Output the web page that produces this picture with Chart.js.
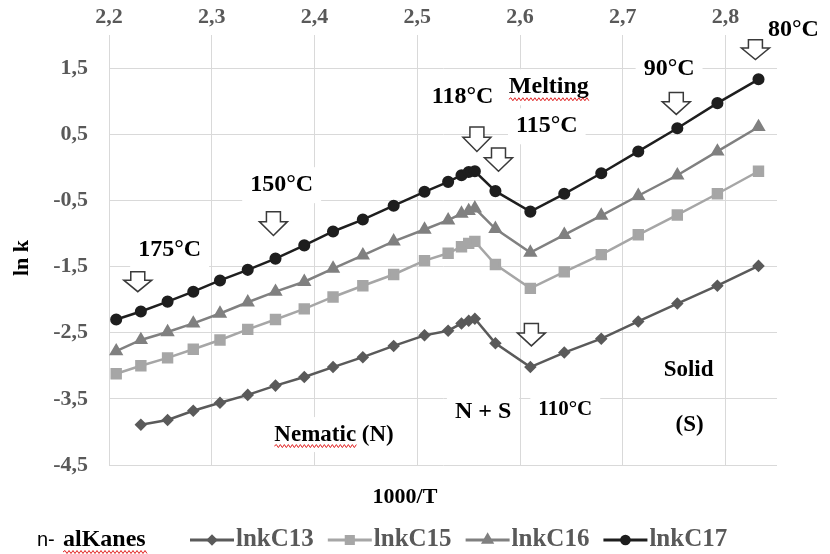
<!DOCTYPE html>
<html>
<head>
<meta charset="utf-8">
<script src="https://cdn.jsdelivr.net/npm/chart.js@4.4.1/dist/chart.umd.min.js"></script>
<style>
  html, body { margin: 0; padding: 0; background: #fff; }
</style>
</head>
<body>
<canvas id="myChart" width="830" height="554"></canvas>
<script>
// 1000/T values (temperatures 180 .. 80 °C)
var invT = [2.207, 2.231, 2.257, 2.282, 2.308, 2.335, 2.362, 2.390, 2.418, 2.447, 2.477, 2.507,
            2.530, 2.543, 2.550, 2.556, 2.576, 2.610, 2.643, 2.679, 2.715, 2.753, 2.792, 2.832];
var lnkC13 = [null, -3.89, -3.82, -3.68, -3.56, -3.44, -3.30, -3.17, -3.02, -2.87, -2.70, -2.54,
              -2.47, -2.36, -2.32, -2.29, -2.66, -3.02, -2.80, -2.59, -2.33, -2.06, -1.79, -1.49];
var lnkC15 = [-3.12, -3.00, -2.88, -2.75, -2.61, -2.45, -2.30, -2.14, -1.96, -1.79, -1.62, -1.41,
              -1.30, -1.20, -1.15, -1.12, -1.47, -1.83, -1.58, -1.32, -1.02, -0.72, -0.40, -0.06];
var lnkC16 = [-2.78, -2.61, -2.49, -2.36, -2.21, -2.04, -1.88, -1.73, -1.53, -1.33, -1.12, -0.94,
              -0.80, -0.70, -0.66, -0.62, -0.93, -1.29, -1.02, -0.73, -0.43, -0.12, 0.24, 0.61];
var lnkC17 = [-2.30, -2.18, -2.03, -1.88, -1.71, -1.55, -1.38, -1.18, -0.97, -0.79, -0.58, -0.37,
              -0.22, -0.12, -0.07, -0.06, -0.36, -0.67, -0.40, -0.09, 0.24, 0.59, 0.97, 1.33];

var xTicks = [2.2, 2.3, 2.4, 2.5, 2.6, 2.7, 2.8];
var xTickLabels = ['2,2', '2,3', '2,4', '2,5', '2,6', '2,7', '2,8'];
var yTicks = [-4.5, -3.5, -2.5, -1.5, -0.5, 0.5, 1.5];
var yTickLabels = ['-4,5', '-3,5', '-2,5', '-1,5', '-0,5', '0,5', '1,5'];

// annotations, placed in data units
var notes = [
  { text: '175°C', x: 2.259, y: -1.24, size: 24 },
  { text: '150°C', x: 2.368, y: -0.27, size: 24 },
  { text: '118°C', x: 2.544, y: 1.06, size: 24 },
  { text: 'Melting', x: 2.628, y: 1.21, size: 24, wavy: 'Melting' },
  { text: '115°C', x: 2.626, y: 0.62, size: 24 },
  { text: '90°C', x: 2.745, y: 1.49, size: 24 },
  { text: '80°C', x: 2.866, y: 2.08, size: 24 },
  { text: '110°C', x: 2.644, y: -3.66, size: 21 },
  { text: 'N + S', x: 2.564, y: -3.70, size: 24 },
  { text: 'Nematic (N)', x: 2.419, y: -4.04, size: 23, wavy: 'Nematic' },
  { text: 'Solid', x: 2.764, y: -3.06, size: 23 },
  { text: '(S)', x: 2.765, y: -3.89, size: 23 }
];
var arrows = [
  { x: 2.228, top: -1.58, tip: -1.88 },
  { x: 2.360, top: -0.67, tip: -1.03 },
  { x: 2.558, top: 0.61, tip: 0.24 },
  { x: 2.579, top: 0.29, tip: -0.06 },
  { x: 2.752, top: 1.13, tip: 0.80 },
  { x: 2.829, top: 1.93, tip: 1.63 },
  { x: 2.611, top: -2.36, tip: -2.70 }
];

function pairs(vals) {
  return invT.map(function (x, i) { return { x: x, y: vals[i] }; })
             .filter(function (p) { return p.y !== null; });
}

var SERIF = '"Liberation Serif", "Times New Roman", serif';

function wavyLine(ctx, x0, x1, y) {
  ctx.save();
  ctx.strokeStyle = '#e02020';
  ctx.lineWidth = 1;
  ctx.beginPath();
  ctx.moveTo(x0, y);
  var up = true;
  for (var x = x0; x < x1; x += 2) {
    ctx.lineTo(x + 2, up ? y - 1.5 : y + 1.5);
    up = !up;
  }
  ctx.stroke();
  ctx.restore();
}

function downArrow(ctx, cx, top, tip) {
  var h = tip - top, w = 28, sw = 14, sh = h * 0.42;
  ctx.beginPath();
  ctx.moveTo(cx - sw / 2, top);
  ctx.lineTo(cx + sw / 2, top);
  ctx.lineTo(cx + sw / 2, top + sh);
  ctx.lineTo(cx + w / 2, top + sh);
  ctx.lineTo(cx, tip);
  ctx.lineTo(cx - w / 2, top + sh);
  ctx.lineTo(cx - sw / 2, top + sh);
  ctx.closePath();
  ctx.fillStyle = '#fff';
  ctx.fill();
  ctx.strokeStyle = '#3a3a3a';
  ctx.lineWidth = 1.5;
  ctx.stroke();
}

var decor = {
  id: 'decor',
  beforeDatasetsDraw: function (chart) {
    var ctx = chart.ctx, xs = chart.scales.x, ys = chart.scales.y;
    ctx.save();
    ctx.textAlign = 'center';
    ctx.textBaseline = 'middle';
    // white text boxes over the grid
    notes.forEach(function (n) {
      ctx.font = 'bold ' + n.size + 'px ' + SERIF;
      var px = xs.getPixelForValue(n.x), py = ys.getPixelForValue(n.y);
      var w = ctx.measureText(n.text).width;
      ctx.fillStyle = '#fff';
      ctx.fillRect(px - w / 2 - 8, py - n.size / 2 - 6, w + 16, n.size + 12);
    });
    notes.forEach(function (n) {
      ctx.font = 'bold ' + n.size + 'px ' + SERIF;
      var px = xs.getPixelForValue(n.x), py = ys.getPixelForValue(n.y);
      ctx.fillStyle = '#000';
      ctx.fillText(n.text, px, py);
      if (n.wavy) {
        var full = ctx.measureText(n.text).width;
        var part = ctx.measureText(n.wavy).width;
        var x0 = px - full / 2;
        wavyLine(ctx, x0, x0 + part, py + n.size * 0.5);
      }
    });
    arrows.forEach(function (a) {
      downArrow(ctx, xs.getPixelForValue(a.x), ys.getPixelForValue(a.top), ys.getPixelForValue(a.tip));
    });
    ctx.restore();
  },
  afterDraw: function (chart) {
    var ctx = chart.ctx;
    ctx.save();
    ctx.fillStyle = '#000';
    ctx.font = 'bold 22px ' + SERIF;
    ctx.textAlign = 'center';
    ctx.textBaseline = 'middle';
    ctx.fillText('1000/T', 405, 497);
    ctx.save();
    ctx.translate(22, 258);
    ctx.rotate(-Math.PI / 2);
    ctx.fillText('ln k', 0, 0);
    ctx.restore();

    // legend
    var ly = 540;
    ctx.textAlign = 'left';
    ctx.font = '20px "Liberation Sans", Arial, sans-serif';
    ctx.fillText('n-', 37, ly);
    ctx.font = 'bold 24px ' + SERIF;
    ctx.fillText('alKanes', 63, ly);
    wavyLine(ctx, 63, 63 + ctx.measureText('alKanes').width, ly + 12);
    var lx = 190;
    chart.data.datasets.forEach(function (ds) {
      ctx.strokeStyle = ds.borderColor;
      ctx.lineWidth = 3;
      ctx.beginPath();
      ctx.moveTo(lx, ly);
      ctx.lineTo(lx + 44, ly);
      ctx.stroke();
      ctx.fillStyle = ds.backgroundColor;
      Chart.helpers.drawPoint(ctx, { pointStyle: ds.pointStyle, radius: ds.pointRadius * 0.8, borderWidth: 1, rotation: 0 }, lx + 22, ly);
      ctx.fillStyle = '#595959';
      ctx.font = 'bold 25px ' + SERIF;
      ctx.fillText(ds.label, lx + 46, ly);
      lx += 46 + ctx.measureText(ds.label).width + 14;
    });
    ctx.restore();
  }
};

new Chart('myChart', {
  type: 'line',
  data: {
    datasets: [
      { label: 'lnkC13', data: pairs(lnkC13), borderColor: '#5a5a5a', backgroundColor: '#5a5a5a',
        pointStyle: 'rectRot', pointRadius: 4.5, borderWidth: 2.5 },
      { label: 'lnkC15', data: pairs(lnkC15), borderColor: '#a6a6a6', backgroundColor: '#a6a6a6',
        pointStyle: 'rect', pointRadius: 6.3, borderWidth: 2.5 },
      { label: 'lnkC16', data: pairs(lnkC16), borderColor: '#808080', backgroundColor: '#808080',
        pointStyle: 'triangle', pointRadius: 5.8, borderWidth: 2.5 },
      { label: 'lnkC17', data: pairs(lnkC17), borderColor: '#1e1e1e', backgroundColor: '#1e1e1e',
        pointStyle: 'circle', pointRadius: 4.8, borderWidth: 2.5 }
    ]
  },
  options: {
    responsive: false,
    animation: false,
    layout: { padding: { left: 0, right: 53, top: 0, bottom: 89 } },
    elements: { line: { tension: 0 }, point: { borderWidth: 1, hoverRadius: 5 } },
    plugins: {
      legend: { display: false },
      tooltip: { enabled: false }
    },
    scales: {
      x: {
        type: 'linear',
        position: 'top',
        min: 2.2,
        max: 2.85,
        afterBuildTicks: function (s) { s.ticks = xTicks.map(function (v) { return { value: v }; }); },
        afterFit: function (s) { s.height = 35; },
        grid: { color: '#d9d9d9', drawTicks: false },
        border: { display: false },
        ticks: {
          padding: 4,
          color: '#595959',
          font: { family: SERIF, size: 22, weight: 'bold' },
          callback: function (v, i) { return xTickLabels[i]; }
        }
      },
      y: {
        min: -4.5,
        max: 2,
        afterBuildTicks: function (s) { s.ticks = yTicks.map(function (v) { return { value: v }; }); },
        afterFit: function (s) { s.width = 109; },
        grid: { color: '#d9d9d9', drawTicks: false },
        border: { color: '#d9d9d9' },
        ticks: {
          padding: 21,
          color: '#595959',
          font: { family: SERIF, size: 22, weight: 'bold' },
          callback: function (v, i) { return yTickLabels[i]; }
        }
      }
    }
  },
  plugins: [decor]
});
</script>
</body>
</html>
